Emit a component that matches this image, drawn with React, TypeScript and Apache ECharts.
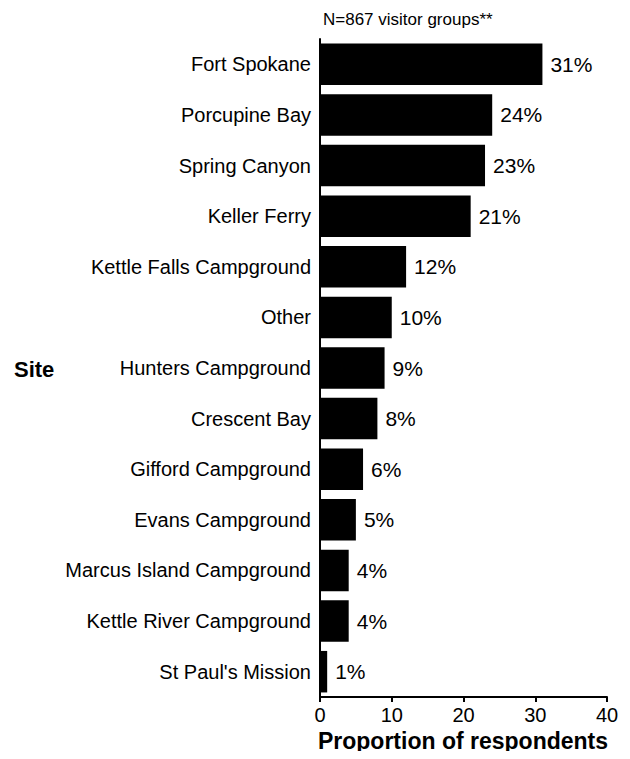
import React, { useEffect, useRef } from "react";
import * as echarts from "echarts";

const categories = [
  "Fort Spokane",
  "Porcupine Bay",
  "Spring Canyon",
  "Keller Ferry",
  "Kettle Falls Campground",
  "Other",
  "Hunters Campground",
  "Crescent Bay",
  "Gifford Campground",
  "Evans Campground",
  "Marcus Island Campground",
  "Kettle River Campground",
  "St Paul's Mission",
];
const values = [31, 24, 23, 21, 12, 10, 9, 8, 6, 5, 4, 4, 1];
const xTicks = [0, 10, 20, 30, 40];
const xAxisTitle = "Proportion of respondents";

export default function App() {
  const ref = useRef<HTMLDivElement>(null);
  useEffect(() => {
    if (!ref.current) return;
    const chart = echarts.init(ref.current, null, { renderer: "svg" });
    const font = "Liberation Sans, Arial, sans-serif";
    chart.setOption({
      animation: false,
      textStyle: { fontFamily: font },
      grid: { left: 320, right: 23, top: 39, bottom: 62, containLabel: false },
      title: {
        text: "N=867 visitor groups**",
        left: 318,
        top: 6,
        textStyle: { fontSize: 17, fontWeight: "normal", color: "#000", fontFamily: font },
      },
      graphic: [
        {
          type: "text",
          left: 14,
          top: 358,
          style: { text: "Site", font: "bold 22px Liberation Sans, Arial, sans-serif", fill: "#000" },
        },
        {
          type: "text",
          x: 463,
          y: 741,
          style: {
            text: xAxisTitle,
            font: "bold 23px Liberation Sans, Arial, sans-serif",
            fill: "#000",
            align: "center",
            verticalAlign: "middle",
          },
        },
      ],
      xAxis: {
        type: "value",
        min: xTicks[0],
        max: xTicks[xTicks.length - 1],
        interval: 10,
        axisLine: { show: true, lineStyle: { color: "#000", width: 2 } },
        axisTick: { show: true, length: 5, lineStyle: { color: "#000", width: 2 } },
        axisLabel: { fontSize: 20, color: "#000", margin: 8, fontFamily: font },
        splitLine: { show: false },
      },
      yAxis: {
        type: "category",
        data: categories,
        inverse: true,
        axisLine: { show: true, lineStyle: { color: "#000", width: 2 } },
        axisTick: { show: false },
        axisLabel: { fontSize: 20, color: "#000", margin: 9, fontFamily: font },
      },
      series: [
        {
          type: "bar",
          data: values,
          barCategoryGap: "18%",
          itemStyle: { color: "#000" },
          label: {
            show: true,
            position: "right",
            distance: 8,
            formatter: "{c}%",
            fontSize: 21,
            color: "#000",
            fontFamily: font,
          },
        },
      ],
    });
    return () => chart.dispose();
  }, []);
  return <div ref={ref} style={{ width: 630, height: 759, margin: -8 }} />;
}
